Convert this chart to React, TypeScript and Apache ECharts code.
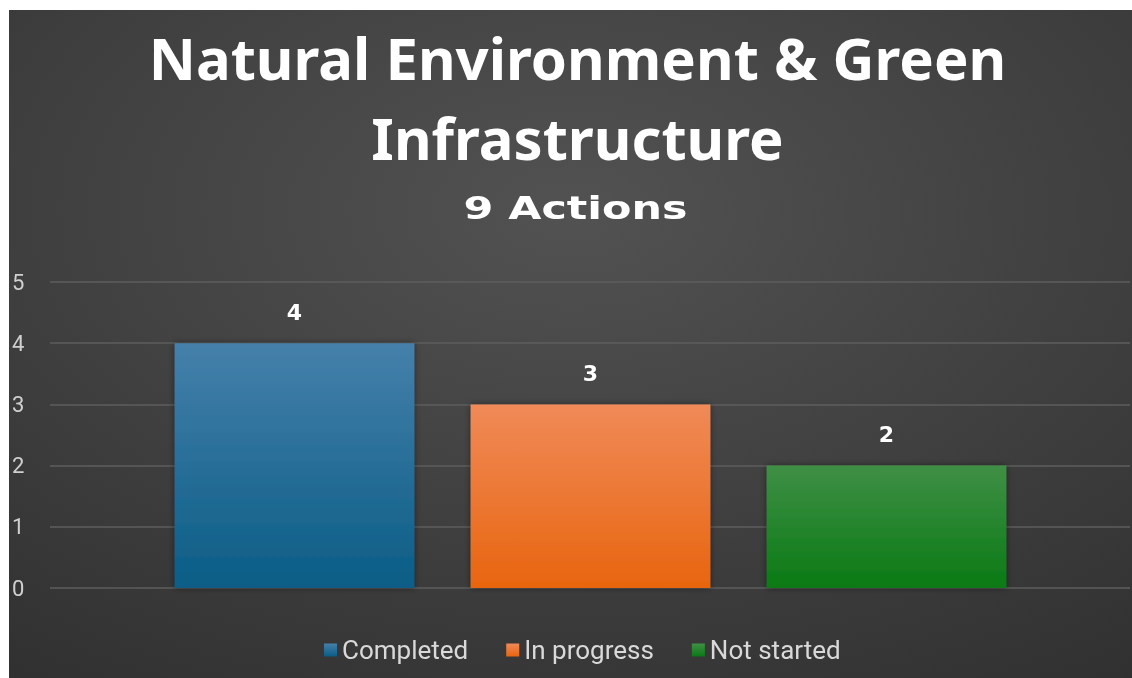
import React, { useEffect, useRef } from "react";
import * as echarts from "echarts";

const categories = ["Completed", "In progress", "Not started"];
const values = [4, 3, 2];
const yTicks = [0, 1, 2, 3, 4, 5];
const titleLines = ["Natural Environment & Green", "Infrastructure"];
const subtitle = "9 Actions";
const barTopColors = ["#4580aa", "#f08a58", "#3f8f45"];
const barBottomColors = ["#0a5d86", "#e8650f", "#0a7a14"];

const NARROW = '"Liberation Sans Narrow", "Roboto", "DejaVu Sans", sans-serif';

export default function App() {
  const ref = useRef<HTMLDivElement>(null);
  useEffect(() => {
    if (!ref.current) return;
    const chart = echarts.init(ref.current, null, { renderer: "svg" });
    const series = categories.map((name, i) => ({
      name,
      type: "bar",
      xAxisIndex: 1,
      yAxisIndex: 1,
      stack: "all",
      barCategoryGap: "19%",
      data: categories.map((_, j) => (j === i ? values[j] : "-")),
      itemStyle: {
        color: new echarts.graphic.LinearGradient(0, 0, 0, 1, [
          { offset: 0, color: barTopColors[i] },
          { offset: 1, color: barBottomColors[i] },
        ]),
        shadowColor: "rgba(0,0,0,0.45)",
        shadowBlur: 6,
      },
      label: {
        show: true,
        position: "top",
        distance: 20,
        color: "#ffffff",
        fontWeight: "bold",
        fontSize: 22,
        fontFamily: '"DejaVu Sans", sans-serif',
      },
    }));
    chart.setOption({
      animation: false,
      backgroundColor: new echarts.graphic.RadialGradient(0.5, 0.3, 1.0, [
        { offset: 0, color: "#525252" },
        { offset: 1, color: "#2b2b2b" },
      ]),
      graphic: [
        {
          type: "text",
          x: 568.5,
          y: 87,
          style: {
            text: titleLines.join("\n"),
            fill: "#ffffff",
            font: 'bold 58px "Noto Sans", sans-serif',
            lineHeight: 80,
            align: "center",
            verticalAlign: "middle",
          },
        },
        {
          type: "text",
          x: 566.5,
          y: 198,
          scaleX: 1.34,
          style: {
            text: subtitle,
            fill: "#ffffff",
            font: 'bold 32px "DejaVu Sans", sans-serif',
            align: "center",
            verticalAlign: "middle",
          },
        },
      ],
      legend: {
        data: categories,
        left: 310,
        top: 622,
        icon: "rect",
        itemWidth: 13,
        itemHeight: 13,
        itemGap: 38,
        textStyle: { color: "#d9d9d9", fontSize: 26, fontFamily: NARROW },
      },
      grid: [
        { left: 41, right: 2, top: 272, bottom: 90 },
        { left: 137.5, right: 97.5, top: 272, bottom: 90 },
      ],
      xAxis: [
        { type: "category", gridIndex: 0, data: [""], show: false },
        { type: "category", gridIndex: 1, data: categories, show: false },
      ],
      yAxis: [
        {
          type: "value",
          gridIndex: 0,
          min: yTicks[0],
          max: yTicks[yTicks.length - 1],
          interval: 1,
          axisLine: { show: false },
          axisTick: { show: false },
          axisLabel: {
            color: "#d0d0d0",
            fontSize: 22,
            fontFamily: NARROW,
            align: "left",
            margin: 38,
          },
          splitLine: { lineStyle: { color: "#5e5e5e", width: 1.5 } },
        },
        {
          type: "value",
          gridIndex: 1,
          min: yTicks[0],
          max: yTicks[yTicks.length - 1],
          interval: 1,
          show: false,
          splitLine: { show: false },
        },
      ],
      series,
    });
    return () => chart.dispose();
  }, []);
  return (
    <div
      ref={ref}
      style={{ position: "fixed", left: 9, top: 10, width: 1123, height: 668 }}
    />
  );
}
